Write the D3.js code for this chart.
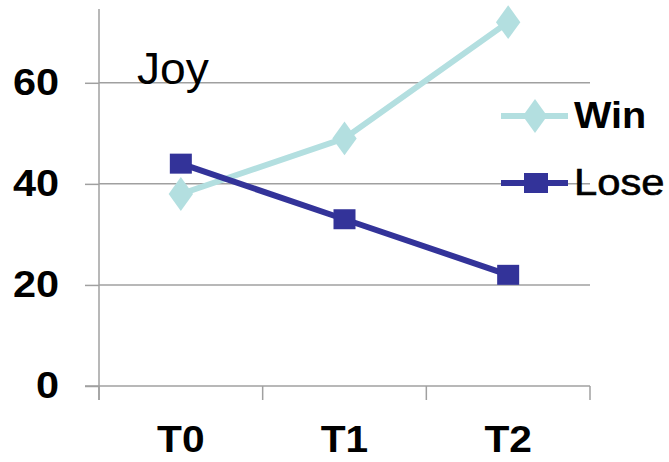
<!DOCTYPE html>
<html>
<head>
<meta charset="utf-8">
<script src="https://cdn.jsdelivr.net/npm/d3@7"></script>
<style>
  html, body { margin: 0; padding: 0; background: #fff; }
  svg { display: block; font-family: "Liberation Sans", Arial, sans-serif; }
</style>
</head>
<body>
<svg id="chart" width="669" height="462"></svg>
<script>
// Joy ratings over time, by outcome
const categories = ["T0", "T1", "T2"];
const winValues = [38, 49, 72];
const loseValues = [44, 33, 22];
const yTicks = [0, 20, 40, 60];
const seriesNames = ["Win", "Lose"];
const panelTitle = "Joy";

const svg = d3.select("#chart");

const x = d3.scaleBand().domain(categories).range([99, 590]);
const y = d3.scaleLinear().domain([0, 75]).range([386, 7]);

const gridColor = "#a0a0a0";
const winColor = "#b3dfe0";
const loseColor = "#333399";
const fontFam = "'Liberation Sans', Arial, sans-serif";

// Widen text glyphs horizontally by factor k
function stretch(sel, k) {
  sel.each(function () {
    const w = this.getComputedTextLength();
    d3.select(this).attr("textLength", w * k).attr("lengthAdjust", "spacingAndGlyphs");
  });
}

// Horizontal gridlines
svg.append("g")
  .selectAll("line")
  .data(yTicks.filter(d => d > 0))
  .join("line")
  .attr("x1", x.range()[0]).attr("x2", x.range()[1])
  .attr("y1", d => y(d)).attr("y2", d => y(d))
  .attr("stroke", gridColor).attr("stroke-width", 1.5);

// Y axis
const yAxis = svg.append("g")
  .attr("transform", `translate(${x.range()[0]},0)`)
  .call(d3.axisLeft(y).tickValues(yTicks).tickSize(14).tickPadding(26).tickFormat(d3.format("d")));
yAxis.select(".domain").remove();
yAxis.append("line")
  .attr("x1", 0).attr("x2", 0)
  .attr("y1", y.range()[1] + 2).attr("y2", y(0) + 14)
  .attr("stroke", gridColor).attr("stroke-width", 1.5);
yAxis.selectAll(".tick line").attr("stroke", gridColor).attr("stroke-width", 1.5);
yAxis.selectAll(".tick text")
  .attr("fill", "#000")
  .attr("font-size", 37)
  .attr("font-weight", "bold")
  .attr("font-family", fontFam)
  .call(stretch, 1.12);

// X axis
const xAxis = svg.append("g")
  .attr("transform", `translate(0,${y(0)})`)
  .call(d3.axisBottom(x).tickSize(0).tickPadding(40));
xAxis.select(".domain").remove();
xAxis.append("line")
  .attr("x1", x.range()[0] - 14).attr("x2", x.range()[1])
  .attr("y1", 0).attr("y2", 0)
  .attr("stroke", gridColor).attr("stroke-width", 1.5);
// Category separators
const bounds = categories.map(c => x(c)).concat([x.range()[1]]);
xAxis.selectAll(".sep")
  .data(bounds)
  .join("line")
  .attr("class", "sep")
  .attr("x1", d => d).attr("x2", d => d)
  .attr("y1", 0).attr("y2", 14)
  .attr("stroke", gridColor).attr("stroke-width", 1.5);
xAxis.selectAll(".tick text")
  .attr("fill", "#000")
  .attr("font-size", 37)
  .attr("font-weight", "bold")
  .attr("font-family", fontFam)
  .call(stretch, 1.1);

const cx = c => x(c) + x.bandwidth() / 2;

const line = d3.line()
  .x((d, i) => cx(categories[i]))
  .y(d => y(d));

// Win series
svg.append("path")
  .datum(winValues)
  .attr("d", line)
  .attr("fill", "none")
  .attr("stroke", winColor)
  .attr("stroke-width", 6);

const diamond = d3.symbol().type(d3.symbolDiamond).size(330);
svg.append("g")
  .selectAll("path")
  .data(winValues)
  .join("path")
  .attr("transform", (d, i) => `translate(${cx(categories[i])},${y(d)}) scale(1.25,1)`)
  .attr("d", diamond)
  .attr("fill", winColor);

// Lose series
svg.append("path")
  .datum(loseValues)
  .attr("d", line)
  .attr("fill", "none")
  .attr("stroke", loseColor)
  .attr("stroke-width", 6);

svg.append("g")
  .selectAll("rect")
  .data(loseValues)
  .join("rect")
  .attr("x", (d, i) => cx(categories[i]) - 11)
  .attr("y", d => y(d) - 10)
  .attr("width", 22)
  .attr("height", 20)
  .attr("fill", loseColor);

// Panel title
svg.append("text")
  .attr("x", 137)
  .attr("y", 84)
  .attr("font-size", 44)
  .attr("fill", "#000")
  .text(panelTitle)
  .call(stretch, 1.05);

// Legend
const legendRows = [
  { name: seriesNames[0], color: winColor, shape: "diamond", yy: 116, bold: true, k: 1.1 },
  { name: seriesNames[1], color: loseColor, shape: "square", yy: 183, bold: false, k: 1.16 }
];
const lg = svg.append("g");
legendRows.forEach(r => {
  lg.append("line")
    .attr("x1", 501).attr("x2", 568)
    .attr("y1", r.yy).attr("y2", r.yy)
    .attr("stroke", r.color).attr("stroke-width", 6);
  if (r.shape === "diamond") {
    lg.append("path")
      .attr("transform", `translate(535,${r.yy}) scale(1.25,1)`)
      .attr("d", diamond)
      .attr("fill", r.color);
  } else {
    lg.append("rect")
      .attr("x", 524).attr("y", r.yy - 10)
      .attr("width", 24).attr("height", 20)
      .attr("fill", r.color);
  }
  lg.append("text")
    .attr("x", 574)
    .attr("y", r.yy + 12)
    .attr("font-size", 36)
    .attr("font-weight", r.bold ? "bold" : "normal")
    .attr("fill", "#000")
    .attr("stroke", r.bold ? "none" : "#000")
    .attr("stroke-width", r.bold ? 0 : 0.6)
    .text(r.name)
    .call(stretch, r.k);
});
</script>
</body>
</html>
